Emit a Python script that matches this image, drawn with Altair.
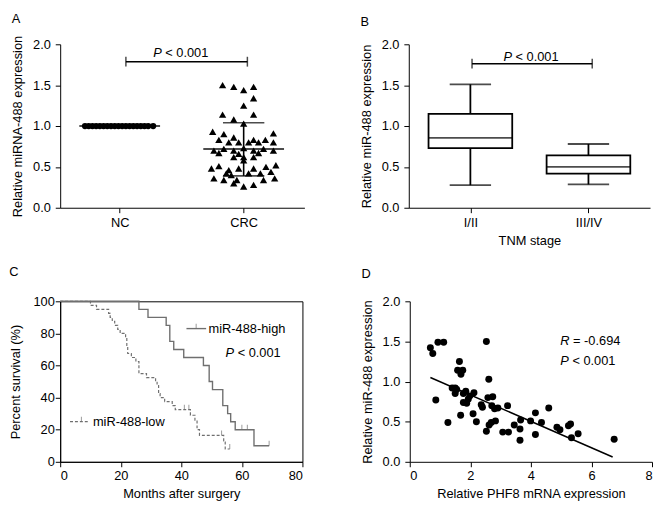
import altair as alt
import pandas as pd

FONT = "Liberation Sans"
BLACK = "#000000"
GREY = "#6f6f6f"

# ---------------- Panel A data ----------------
a_groups = ["NC", "CRC"]
a_group_pos = [0.48, 1.48]
nc_values = [1.0] * 19
nc_jitter = [-0.28, -0.25, -0.22, -0.19, -0.16, -0.13, -0.10, -0.07, -0.04, -0.01,
             0.02, 0.05, 0.08, 0.11, 0.14, 0.17, 0.20, 0.23, 0.27]
crc_values = [1.50, 1.48, 1.48, 1.44, 1.34, 1.25, 1.14, 1.14, 1.08, 1.03,
              0.93, 0.91, 0.90, 0.86, 0.83, 0.83, 0.83, 0.80, 0.80, 0.80, 0.80, 0.80,
              0.70, 0.72, 0.70, 0.73, 0.70, 0.72, 0.70, 0.67, 0.66, 0.67,
              0.62, 0.62, 0.62, 0.58, 0.52, 0.51, 0.50, 0.48, 0.48, 0.48,
              0.46, 0.44, 0.42, 0.42, 0.42, 0.40, 0.36, 0.36, 0.34, 0.34, 0.34,
              0.30, 0.26, 0.28]
crc_jitter = [-0.17, -0.08, 0.08, 0.00, 0.08, 0.00, -0.17, 0.08, -0.08, 0.00,
              -0.25, 0.24, -0.16, -0.08, -0.20, 0.08, 0.175, -0.12, -0.04, 0.04, 0.12, 0.24,
              -0.24, -0.16, -0.08, 0.00, 0.08, 0.16, 0.24, -0.20, -0.04, 0.12,
              -0.08, 0.00, 0.08, 0.00, 0.26, -0.20, 0.18, -0.26, -0.04, 0.08,
              -0.12, 0.22, -0.14, 0.04, 0.135, -0.10, -0.24, 0.25, -0.16, -0.055, 0.16,
              -0.08, 0.00, 0.08]
a_means = [1.0, 0.72]
crc_sd_range = [0.39, 1.04]
a_bracket = [0.53, 1.51, 1.787]
a_ptext = [0.75, 1.85]

# ---------------- Panel B data ----------------
b_groups = ["I/II", "III/IV"]
b_group_pos = [0.48, 1.48]
b_min = [0.277, 0.285]
b_q1 = [0.73, 0.418]
b_med = [0.855, 0.50]
b_q3 = [1.15, 0.642]
b_max = [1.51, 0.78]
b_bracket = [0.494, 1.512, 1.763]
b_ptext = [0.76, 1.795]

# ---------------- Panel C data ----------------
high_months = [0, 26, 29, 35, 36.2, 37.5, 40.8, 47.3, 49.2, 50.3, 53.7, 55.3, 56.3, 57.8, 64, 69]
high_surv = [100, 95, 90, 85, 75, 70, 65, 60, 50, 45, 35, 30, 25, 20, 10, 10]
high_cens_m = [60.0, 61.8, 69.0]
high_cens_s = [20, 20, 10]
low_months = [0, 10, 12, 16, 16.5, 17.2, 18, 19, 19.8, 21.6, 22, 22.3, 23.5, 25, 26, 28.5,
              31.5, 32, 32.5, 33, 34.5, 37, 38, 43, 44.5, 45.2, 46, 54, 54.5, 56]
low_surv = [100, 97.5, 95, 92.5, 90, 87.5, 85, 82.5, 80, 77.5, 72.5, 67.5, 65, 62.5, 55, 52.5,
            50, 47.5, 42.5, 40, 37.5, 35, 32.5, 29, 26, 20, 16.5, 13, 8, 8]
low_cens_m = [41.0, 42.5, 53.3, 56.0]
low_cens_s = [32.5, 32.5, 16.5, 8]

# ---------------- Panel D data ----------------
phf8 = [0.68, 0.76, 0.93, 1.12, 0.86, 1.26, 1.64, 1.58, 1.75, 1.69, 2.53, 2.61,
        1.40, 1.50, 1.50, 1.55, 1.68, 1.77, 1.85, 1.77, 1.88, 1.93, 1.98, 2.12,
        2.09, 2.20, 2.36, 2.40, 2.53, 2.58, 2.62, 2.74, 2.71, 2.69, 2.80, 2.83,
        2.91, 3.07, 3.23, 3.26, 3.45, 3.64, 3.66, 3.64, 3.99, 4.15, 4.15, 4.35,
        4.59, 4.86, 4.96, 5.24, 5.31, 5.34, 5.56, 6.75]
mir488 = [1.42, 1.35, 1.49, 1.49, 0.77, 0.49, 1.25, 1.14, 1.14, 1.09, 1.50, 1.03,
          0.92, 0.92, 0.85, 0.90, 0.58, 0.85, 0.88, 0.74, 0.73, 0.78, 0.82, 0.86,
          0.60, 0.50, 0.71, 0.68, 0.38, 0.80, 0.46, 0.81, 0.70, 0.49, 0.66, 0.51,
          0.67, 0.37, 0.70, 0.37, 0.46, 0.41, 0.52, 0.27, 0.51, 0.34, 0.61, 0.49,
          0.67, 0.43, 0.40, 0.45, 0.47, 0.30, 0.35, 0.28]
fit_x = [0.68, 6.70]
fit_y = [1.05, 0.06]


def ptext(df, x, y, letter, rest, dx):
    return [
        alt.Chart(df).mark_text(text=letter, font=FONT, fontSize=13, fontStyle="italic", align="left",
                                baseline="alphabetic", color=BLACK).encode(x=x, y=y),
        alt.Chart(df).mark_text(text=rest, font=FONT, fontSize=13, align="left", dx=dx,
                                baseline="alphabetic", color=BLACK).encode(x=x, y=y),
    ]


# ======== Panel A ========
xA = alt.X("x:Q", scale=alt.Scale(domain=[0, 1.97], nice=False, zero=False),
           axis=alt.Axis(values=a_group_pos, labelExpr=f"datum.value < 1 ? '{a_groups[0]}' : '{a_groups[1]}'",
                         title=None, labelPadding=4))
yA = alt.Y("y:Q", scale=alt.Scale(domain=[0, 2], nice=False),
           axis=alt.Axis(values=[0, 0.5, 1, 1.5, 2], format=".1f", title="Relative miRNA-488 expression",
                         labelPadding=5, titlePadding=8))

nc_df = pd.DataFrame({"x": [a_group_pos[0] + j for j in nc_jitter], "y": nc_values})
crc_df = pd.DataFrame({"x": [a_group_pos[1] + j for j in crc_jitter], "y": crc_values})
mean_df = pd.DataFrame({"x": a_group_pos, "y": a_means})
sd_df = pd.DataFrame({"x": [a_group_pos[1]] * 2, "y": crc_sd_range})
sdr_df = pd.DataFrame({"x": [a_group_pos[1]], "y": [crc_sd_range[0]], "y2": [crc_sd_range[1]]})
brA_df = pd.DataFrame({"x": [a_bracket[0]], "x2": [a_bracket[1]], "y": [a_bracket[2]]})
brAe_df = pd.DataFrame({"x": a_bracket[:2], "y": [a_bracket[2]] * 2})
pA_df = pd.DataFrame({"x": [a_ptext[0]], "y": [a_ptext[1]]})

panelA = alt.layer(
    alt.Chart(nc_df).mark_circle(size=40, color=BLACK, opacity=1).encode(x=xA, y=yA),
    alt.Chart(crc_df).mark_point(shape="triangle-up", filled=True, size=55, color=BLACK, opacity=1).encode(x=xA, y=yA),
    alt.Chart(mean_df).mark_tick(orient="horizontal", size=82, thickness=2, color=BLACK).encode(x=xA, y=yA),
    alt.Chart(sd_df).mark_tick(orient="horizontal", size=42, thickness=1.6, color=BLACK).encode(x=xA, y=yA),
    alt.Chart(sdr_df).mark_rule(strokeWidth=1.6, color=BLACK).encode(x=xA, y=yA, y2="y2:Q"),
    alt.Chart(brA_df).mark_rule(strokeWidth=1.5, color=BLACK).encode(x=xA, x2="x2:Q", y=yA),
    alt.Chart(brAe_df).mark_tick(orient="vertical", size=10, thickness=1.5, color=BLACK).encode(x=xA, y=yA),
    *ptext(pA_df, xA, yA, "P", "< 0.001", 12.3),
).properties(width=248, height=166,
             title=alt.TitleParams("A", anchor="start", frame="bounds", offset=10))

# ======== Panel B ========
xB = alt.X("x:Q", scale=alt.Scale(domain=[0, 1.96], nice=False, zero=False),
           axis=alt.Axis(values=b_group_pos, labelExpr=f"datum.value < 1 ? '{b_groups[0]}' : '{b_groups[1]}'",
                         title="TNM stage", labelPadding=4, titlePadding=5))
yB_axis = alt.Axis(values=[0, 0.5, 1, 1.5, 2], format=".1f", title="Relative miR-488 expression",
                   labelPadding=5, titlePadding=8)
yB_scale = alt.Scale(domain=[0, 2], nice=False)
yB = alt.Y("y:Q", scale=yB_scale, axis=yB_axis)
box_df = pd.DataFrame({"x": b_group_pos, "ymin": b_min, "q1": b_q1, "med": b_med, "q3": b_q3, "ymax": b_max})
brB_df = pd.DataFrame({"x": [b_bracket[0]], "x2": [b_bracket[1]], "y": [b_bracket[2]]})
brBe_df = pd.DataFrame({"x": b_bracket[:2], "y": [b_bracket[2]] * 2})
pB_df = pd.DataFrame({"x": [b_ptext[0]], "y": [b_ptext[1]]})

boxbase = alt.Chart(box_df)
panelB = alt.layer(
    boxbase.mark_rule(strokeWidth=1.8, color=BLACK).encode(
        x=xB, y=alt.Y("ymin:Q", scale=yB_scale, axis=yB_axis), y2="ymax:Q"),
    boxbase.mark_bar(orient="vertical", size=85, fill="white", stroke=BLACK, strokeWidth=1.8).encode(
        x=xB, y=alt.Y("q1:Q", scale=yB_scale, axis=yB_axis), y2="q3:Q"),
    boxbase.mark_tick(orient="horizontal", size=85, thickness=1.8, color=BLACK).encode(
        x=xB, y=alt.Y("med:Q", scale=yB_scale, axis=yB_axis)),
    boxbase.mark_tick(orient="horizontal", size=42, thickness=1.8, color=BLACK).encode(
        x=xB, y=alt.Y("ymin:Q", scale=yB_scale, axis=yB_axis)),
    boxbase.mark_tick(orient="horizontal", size=42, thickness=1.8, color=BLACK).encode(
        x=xB, y=alt.Y("ymax:Q", scale=yB_scale, axis=yB_axis)),
    alt.Chart(brB_df).mark_rule(strokeWidth=1.5, color=BLACK).encode(x=xB, x2="x2:Q", y=yB),
    alt.Chart(brBe_df).mark_tick(orient="vertical", size=10, thickness=1.5, color=BLACK).encode(x=xB, y=yB),
    *ptext(pB_df, xB, yB, "P", "< 0.001", 12.3),
).properties(width=245, height=166,
             title=alt.TitleParams("B", anchor="start", frame="bounds", offset=10))

# ======== Panel C ========
xC = alt.X("x:Q", scale=alt.Scale(domain=[0, 80], nice=False),
           axis=alt.Axis(values=[0, 20, 40, 60, 80], title="Months after surgery", labelPadding=3, titlePadding=5))
yC = alt.Y("y:Q", scale=alt.Scale(domain=[0, 100], nice=False),
           axis=alt.Axis(values=[0, 20, 40, 60, 80, 100], title="Percent survival (%)", labelPadding=1, titlePadding=11))
high_df = pd.DataFrame({"x": high_months, "y": high_surv})
low_df = pd.DataFrame({"x": low_months, "y": low_surv})
hc_df = pd.DataFrame({"x": high_cens_m, "y": high_cens_s})
lc_df = pd.DataFrame({"x": low_cens_m, "y": low_cens_s})
leg_hi_line = pd.DataFrame({"x": [41.7], "x2": [48.2], "y": [83.0]})
leg_hi_tick = pd.DataFrame({"x": [44.9], "y": [83.0]})
leg_hi_text = pd.DataFrame({"x": [49.0], "y": [83.0], "t": ["miR-488-high"]})
leg_lo_line = pd.DataFrame({"x": [3.25], "x2": [9.1], "y": [25.0]})
leg_lo_tick = pd.DataFrame({"x": [7.0], "y": [25.0]})
leg_lo_text = pd.DataFrame({"x": [10.8], "y": [25.0], "t": ["miR-488-low"]})
pC_df = pd.DataFrame({"x": [54.6], "y": [65.6]})

panelC = alt.layer(
    alt.Chart(high_df).mark_line(interpolate="step-after", color=GREY, strokeWidth=1.4).encode(x=xC, y=yC),
    alt.Chart(low_df).mark_line(interpolate="step-after", color=GREY, strokeWidth=1.2, strokeDash=[3, 2]).encode(x=xC, y=yC),
    alt.Chart(hc_df).mark_tick(orient="vertical", size=5, thickness=1, color=GREY, yOffset=-2.5).encode(x=xC, y=yC),
    alt.Chart(lc_df).mark_tick(orient="vertical", size=5, thickness=1, color=GREY, yOffset=-2.5).encode(x=xC, y=yC),
    alt.Chart(leg_hi_line).mark_rule(color=GREY, strokeWidth=1.4).encode(x=xC, x2="x2:Q", y=yC),
    alt.Chart(leg_hi_tick).mark_tick(orient="vertical", size=5, thickness=1, color=GREY, yOffset=-2.5).encode(x=xC, y=yC),
    alt.Chart(leg_hi_text).mark_text(font=FONT, fontSize=13, align="left", baseline="middle", color=BLACK).encode(x=xC, y=yC, text="t:N"),
    alt.Chart(leg_lo_line).mark_rule(color=GREY, strokeWidth=1.2, strokeDash=[3, 2]).encode(x=xC, x2="x2:Q", y=yC),
    alt.Chart(leg_lo_tick).mark_tick(orient="vertical", size=5, thickness=1, color=GREY, yOffset=-2.5).encode(x=xC, y=yC),
    alt.Chart(leg_lo_text).mark_text(font=FONT, fontSize=13, align="left", baseline="middle", color=BLACK).encode(x=xC, y=yC, text="t:N"),
    *ptext(pC_df, xC, yC, "P", "< 0.001", 12.3),
).properties(width=246, height=163, view=alt.ViewBackground(stroke=BLACK, strokeWidth=1),
             title=alt.TitleParams("C", anchor="start", frame="bounds", offset=17))

# ======== Panel D ========
xD = alt.X("x:Q", scale=alt.Scale(domain=[0, 8], nice=False),
           axis=alt.Axis(values=[0, 2, 4, 6, 8], title="Relative PHF8 mRNA expression", labelPadding=3, titlePadding=5))
yD = alt.Y("y:Q", scale=alt.Scale(domain=[0, 2], nice=False),
           axis=alt.Axis(values=[0, 0.5, 1, 1.5, 2], format=".1f", title="Relative miR-488 expression",
                         labelPadding=5, titlePadding=8))
pts_df = pd.DataFrame({"x": phf8, "y": mir488})
fit_df = pd.DataFrame({"x": fit_x, "y": fit_y})
rD_df = pd.DataFrame({"x": [4.97], "y": [1.46]})
pD_df = pd.DataFrame({"x": [4.97], "y": [1.21]})

panelD = alt.layer(
    alt.Chart(pts_df).mark_circle(size=50, color=BLACK, opacity=1).encode(x=xD, y=yD),
    alt.Chart(fit_df).mark_line(color=BLACK, strokeWidth=1.5).encode(x=xD, y=yD),
    *ptext(rD_df, xD, yD, "R", "= -0.694", 13),
    *ptext(pD_df, xD, yD, "P", "< 0.001", 12.3),
).properties(width=246, height=163,
             title=alt.TitleParams("D", anchor="start", frame="bounds", offset=15))

row1 = alt.hconcat(panelA, panelB, spacing=56)
row2 = alt.hconcat(panelC, panelD, spacing=58)

chart = alt.vconcat(row1, row2, spacing=18).properties(
    padding=0, background="white"
).configure_view(stroke=None).configure_axis(
    grid=False, domainColor=BLACK, tickColor=BLACK, labelColor=BLACK, titleColor=BLACK,
    labelFont=FONT, titleFont=FONT, labelFontSize=13, titleFontSize=13, titleFontWeight="normal",
    tickSize=5, domainWidth=1, tickWidth=1
).configure_title(font=FONT, fontSize=13, fontWeight="normal", color=BLACK)

chart.save("out.html", embed_options={"renderer": "svg", "actions": False})
